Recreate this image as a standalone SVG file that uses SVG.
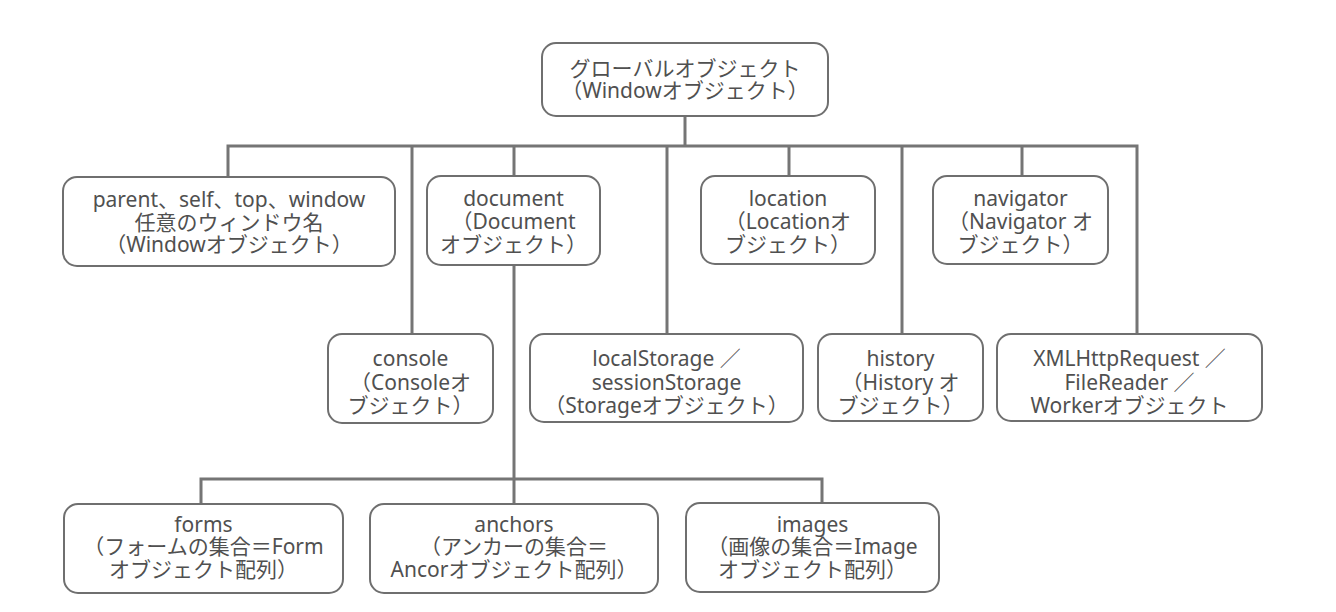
<svg xmlns="http://www.w3.org/2000/svg" width="1336" height="612" viewBox="0 0 1336 612">
<style>
.box{fill:#ffffff;stroke:#6f6f6f;stroke-width:2}
.t{font-family:"Noto Sans","Noto Sans CJK JP",sans-serif;font-size:21px;fill:#505050;text-anchor:middle}
.c{fill:none;stroke:#757575;stroke-width:3}
</style>
<rect width="1336" height="612" fill="#ffffff"/>
<g id="connectors">
<path class="c" d="M685,116 V146"/>
<path class="c" d="M228,177 V146 H1137 V333"/>
<path class="c" d="M412,146 V334"/>
<path class="c" d="M514,146 V176"/>
<path class="c" d="M667,146 V333"/>
<path class="c" d="M789,146 V176"/>
<path class="c" d="M902,146 V333"/>
<path class="c" d="M1022,146 V176"/>
<path class="c" d="M514,265 V504"/>
<path class="c" d="M201,504 V479 H822 V503"/>
</g>
<g id="global">
<rect class="box" x="542" y="43" width="286" height="73" rx="14"/>
<text class="t" x="685" y="76">グローバルオブジェクト</text>
<text class="t" x="685" y="98">（Windowオブジェクト）</text>
</g>
<g id="parent">
<rect class="box" x="63" y="177" width="332" height="89" rx="14"/>
<text class="t" x="229" y="207">parent、self、top、window</text>
<text class="t" x="229" y="230">任意のウィンドウ名</text>
<text class="t" x="229" y="252">（Windowオブジェクト）</text>
</g>
<g id="document">
<rect class="box" x="427" y="176" width="173" height="89" rx="14"/>
<text class="t" x="513.5" y="206">document</text>
<text class="t" x="513.5" y="229">（Document</text>
<text class="t" x="513.5" y="252">オブジェクト）</text>
</g>
<g id="location">
<rect class="box" x="701" y="176" width="174" height="88" rx="14"/>
<text class="t" x="788" y="206">location</text>
<text class="t" x="788" y="229">（Locationオ</text>
<text class="t" x="788" y="252">ブジェクト）</text>
</g>
<g id="navigator">
<rect class="box" x="933" y="176" width="175" height="88" rx="14"/>
<text class="t" x="1020.5" y="206">navigator</text>
<text class="t" x="1020.5" y="229">（Navigator オ</text>
<text class="t" x="1020.5" y="252">ブジェクト）</text>
</g>
<g id="console">
<rect class="box" x="328" y="334" width="165" height="89" rx="14"/>
<text class="t" x="410.5" y="366">console</text>
<text class="t" x="410.5" y="390">（Consoleオ</text>
<text class="t" x="410.5" y="413">ブジェクト）</text>
</g>
<g id="storage">
<rect class="box" x="530" y="334" width="273" height="88" rx="14"/>
<text class="t" x="666.5" y="366">localStorage ／</text>
<text class="t" x="666.5" y="390">sessionStorage</text>
<text class="t" x="666.5" y="413">（Storageオブジェクト）</text>
</g>
<g id="history">
<rect class="box" x="818" y="334" width="165" height="87" rx="14"/>
<text class="t" x="900.5" y="366">history</text>
<text class="t" x="900.5" y="390">（History オ</text>
<text class="t" x="900.5" y="413">ブジェクト）</text>
</g>
<g id="xhr">
<rect class="box" x="997" y="334" width="265" height="87" rx="14"/>
<text class="t" x="1129.5" y="366">XMLHttpRequest ／</text>
<text class="t" x="1129.5" y="390">FileReader ／</text>
<text class="t" x="1129.5" y="413">Workerオブジェクト</text>
</g>
<g id="forms">
<rect class="box" x="64" y="504" width="279" height="89" rx="14"/>
<text class="t" x="203.5" y="532">forms</text>
<text class="t" x="203.5" y="554">（フォームの集合＝Form</text>
<text class="t" x="203.5" y="577">オブジェクト配列）</text>
</g>
<g id="anchors">
<rect class="box" x="370" y="504" width="288" height="89" rx="14"/>
<text class="t" x="514" y="532">anchors</text>
<text class="t" x="514" y="554">（アンカーの集合＝</text>
<text class="t" x="514" y="577">Ancorオブジェクト配列）</text>
</g>
<g id="images">
<rect class="box" x="686" y="503" width="253" height="89" rx="14"/>
<text class="t" x="812.5" y="532">images</text>
<text class="t" x="812.5" y="554">（画像の集合＝Image</text>
<text class="t" x="812.5" y="577">オブジェクト配列）</text>
</g>
</svg>
